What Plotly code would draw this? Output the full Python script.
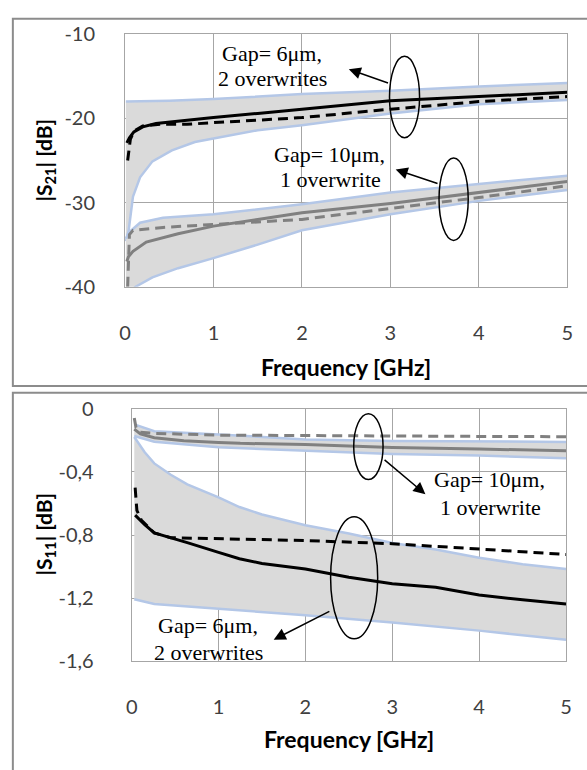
import plotly.graph_objects as go

W, H = 587, 770

# ---------------- Top chart |S21| ----------------
t6_up_x = [0.01, 0.5, 1.0, 2.0, 3.0, 4.0, 5.0]
t6_up_y = [-18.0, -17.9, -17.7, -17.1, -16.7, -16.2, -15.8]
t6_lo_x = [0.01, 0.04, 0.09, 0.17, 0.31, 0.53, 0.79, 1.0, 1.5, 2.0, 3.0, 4.0, 5.0]
t6_lo_y = [-34.6, -33.4, -29.3, -27.0, -25.1, -23.8, -22.8, -22.4, -21.4, -20.8, -19.4, -18.3, -17.8]
t6_sol_x = [0.02, 0.05, 0.1, 0.2, 0.35, 0.6, 1.0, 1.5, 2.0, 3.0, 4.0, 5.0]
t6_sol_y = [-22.9, -22.3, -21.6, -21.0, -20.6, -20.3, -19.9, -19.4, -18.9, -17.9, -17.4, -16.9]
t6_dash_x = [0.03, 0.04, 0.06, 0.1, 0.2, 0.4, 0.7, 1.0, 1.5, 2.0, 3.0, 4.0, 5.0]
t6_dash_y = [-25.0, -24.0, -22.5, -21.5, -20.9, -20.7, -20.7, -20.5, -20.2, -19.9, -18.9, -18.0, -17.4]

t10_up_x = [0.01, 0.04, 0.17, 0.43, 1.0, 2.0, 3.0, 4.0, 5.0]
t10_up_y = [-34.3, -33.6, -32.4, -31.8, -31.4, -30.2, -28.8, -27.8, -26.8]
t10_lo_x = [0.01, 0.12, 0.31, 0.6, 1.0, 1.5, 2.0, 3.0, 4.0, 5.0]
t10_lo_y = [-41.0, -40.0, -38.9, -37.8, -36.6, -35.0, -33.3, -31.4, -29.8, -28.5]
t10_sol_x = [0.02, 0.04, 0.09, 0.24, 0.6, 1.0, 1.5, 2.0, 3.0, 4.0, 5.0]
t10_sol_y = [-37.0, -36.4, -35.8, -34.7, -33.7, -32.8, -32.0, -31.2, -30.1, -28.8, -27.5]
t10_dash_x = [0.03, 0.04, 0.05, 0.09, 0.43, 1.0, 1.5, 2.0, 3.0, 4.0, 5.0]
t10_dash_y = [-40.0, -37.0, -33.8, -33.3, -32.95, -32.6, -32.3, -32.0, -30.7, -29.4, -28.0]

# ---------------- Bottom chart |S11| ----------------
b10_up_x = [0.03, 0.26, 1.0, 2.0, 3.0, 4.0, 5.0]
b10_up_y = [-0.10, -0.143, -0.164, -0.195, -0.205, -0.208, -0.211]
b10_lo_x = [0.03, 0.26, 1.0, 2.0, 3.0, 4.0, 5.0]
b10_lo_y = [-0.174, -0.21, -0.245, -0.267, -0.287, -0.297, -0.314]
b10_sol_x = [0.03, 0.1, 0.26, 0.6, 1.0, 1.25, 2.0, 3.0, 4.0, 5.0]
b10_sol_y = [-0.13, -0.16, -0.184, -0.204, -0.214, -0.22, -0.228, -0.246, -0.256, -0.267]
b10_dash_x = [0.03, 0.05, 0.1, 0.26, 1.0, 2.0, 3.0, 4.0, 5.0]
b10_dash_y = [-0.06, -0.12, -0.15, -0.157, -0.168, -0.172, -0.174, -0.176, -0.178]

b6_up_x = [0.03, 0.15, 0.26, 0.45, 0.64, 1.0, 1.24, 1.5, 2.0, 2.5, 3.0, 3.5, 4.0, 4.5, 5.0]
b6_up_y = [-0.18, -0.276, -0.347, -0.419, -0.48, -0.562, -0.623, -0.67, -0.738, -0.79, -0.851, -0.892, -0.944, -0.985, -1.015]
b6_lo_x = [0.03, 0.26, 1.0, 1.24, 2.0, 3.0, 4.0, 5.0]
b6_lo_y = [-1.206, -1.236, -1.267, -1.277, -1.307, -1.354, -1.405, -1.463]
b6_sol_x = [0.04, 0.15, 0.26, 0.45, 0.64, 1.0, 1.24, 1.5, 2.0, 2.5, 3.0, 3.5, 4.0, 4.5, 5.0]
b6_sol_y = [-0.674, -0.735, -0.787, -0.817, -0.848, -0.91, -0.95, -0.98, -1.015, -1.067, -1.108, -1.13, -1.179, -1.21, -1.237]
b6_dash_x = [0.04, 0.06, 0.11, 0.26, 0.45, 1.0, 2.0, 3.0, 4.0, 5.0]
b6_dash_y = [-0.50, -0.644, -0.705, -0.787, -0.817, -0.824, -0.835, -0.855, -0.888, -0.923]

x_ticks = [0, 1, 2, 3, 4, 5]
top_y_ticks = [-40, -30, -20, -10]
top_y_labels = ["-40", "-30", "-20", "-10"]
bot_y_ticks = [-1.6, -1.2, -0.8, -0.4, 0]
bot_y_labels = ["-1,6", "-1,2", "-0,8", "-0,4", "0"]

BLUE = "#b4c7e7"
FILL = "#dadada"
GRAY = "#808080"
BLACK = "#000000"
DASH = "10px,6px"

fig = go.Figure()


def band(xu, yu, xl, yl, xa, ya):
    fig.add_trace(go.Scatter(x=xu, y=yu, mode="lines", line=dict(color=BLUE, width=2.5),
                             xaxis=xa, yaxis=ya, showlegend=False, hoverinfo="skip"))
    fig.add_trace(go.Scatter(x=xl, y=yl, mode="lines", line=dict(color=BLUE, width=2.5),
                             fill="tonexty", fillcolor=FILL,
                             xaxis=xa, yaxis=ya, showlegend=False, hoverinfo="skip"))


def line(x, y, color, dash, xa, ya):
    fig.add_trace(go.Scatter(x=x, y=y, mode="lines",
                             line=dict(color=color, width=3, dash=dash),
                             xaxis=xa, yaxis=ya, showlegend=False))


band(t6_up_x, t6_up_y, t6_lo_x, t6_lo_y, "x", "y")
band(t10_up_x, t10_up_y, t10_lo_x, t10_lo_y, "x", "y")
line(t10_sol_x, t10_sol_y, GRAY, "solid", "x", "y")
line(t10_dash_x, t10_dash_y, GRAY, DASH, "x", "y")
line(t6_sol_x, t6_sol_y, BLACK, "solid", "x", "y")
line(t6_dash_x, t6_dash_y, BLACK, DASH, "x", "y")

band(b10_up_x, b10_up_y, b10_lo_x, b10_lo_y, "x2", "y2")
band(b6_up_x, b6_up_y, b6_lo_x, b6_lo_y, "x2", "y2")
line(b10_sol_x, b10_sol_y, GRAY, "solid", "x2", "y2")
line(b10_dash_x, b10_dash_y, GRAY, DASH, "x2", "y2")
line(b6_sol_x, b6_sol_y, BLACK, "solid", "x2", "y2")
line(b6_dash_x, b6_dash_y, BLACK, DASH, "x2", "y2")


def px(x):
    return x / W


def py(y):
    return 1 - y / H


TICKFONT = dict(family="Lato, Calibri, sans-serif", size=20, color="#404040")
GRID = "#a6a6a6"
common_x = dict(range=[0, 5], tickvals=x_ticks, showgrid=True, gridcolor=GRID, gridwidth=1,
                zeroline=False, showline=True, mirror=True, linecolor=GRID, linewidth=1,
                ticks="", tickfont=TICKFONT, ticklabelstandoff=28, fixedrange=True)
common_y = dict(showgrid=True, gridcolor=GRID, gridwidth=1, zeroline=False, showline=True,
                mirror=True, linecolor=GRID, linewidth=1, ticks="", tickfont=TICKFONT,
                fixedrange=True)

fig.update_layout(
    width=W, height=H, margin=dict(l=0, r=0, t=0, b=0),
    paper_bgcolor="white", plot_bgcolor="white",
    xaxis=dict(domain=[px(121.5), px(573)], anchor="y", **common_x),
    yaxis=dict(domain=[py(282.5), py(22)], anchor="x", range=[-40, -10], tickvals=top_y_ticks,
               ticktext=top_y_labels, ticklabelstandoff=25, **common_y),
    xaxis2=dict(domain=[px(128.3), px(571.7)], anchor="y2", **common_x),
    yaxis2=dict(domain=[py(669.3), py(408.3)], anchor="x2", range=[-1.6, 0], tickvals=bot_y_ticks,
                ticktext=bot_y_labels, ticklabelstandoff=33, **common_y),
)

shapes = []
# panel frames
shapes.append(dict(type="rect", xref="paper", yref="paper", x0=px(7), x1=px(600), y0=py(385), y1=py(6),
                   line=dict(color="#8c8c8c", width=2), layer="below"))
shapes.append(dict(type="rect", xref="paper", yref="paper", x0=px(7), x1=px(600), y0=py(785), y1=py(392),
                   line=dict(color="#8c8c8c", width=2), layer="below"))
# ellipses
ell = dict(type="circle", line=dict(color=BLACK, width=1.5))
shapes.append(dict(ell, xref="x", yref="y", x0=2.99, x1=3.33, y0=-22.3, y1=-12.6))
shapes.append(dict(ell, xref="x", yref="y", x0=3.55, x1=3.88, y0=-34.5, y1=-24.7))
shapes.append(dict(ell, xref="x2", yref="y2", x0=2.556, x1=2.894, y0=-0.449, y1=-0.032))
shapes.append(dict(ell, xref="x2", yref="y2", x0=2.29, x1=2.832, y0=-1.457, y1=-0.685))
fig.update_layout(shapes=shapes)

ann = []
arrow = dict(text="", showarrow=True, arrowhead=2, arrowsize=1.6, arrowwidth=1.5, arrowcolor=BLACK)
ann.append(dict(arrow, x=2.53, y=-14.14, ax=2.99, ay=-15.86, xref="x", yref="y", axref="x", ayref="y"))
ann.append(dict(arrow, x=3.06, y=-26.06, ax=3.55, ay=-27.8, xref="x", yref="y", axref="x", ayref="y"))
ann.append(dict(arrow, x=3.382, y=-0.542, ax=2.894, ay=-0.317, xref="x2", yref="y2", axref="x2", ayref="y2"))
ann.append(dict(arrow, x=1.635, y=-1.462, ax=2.293, ay=-1.278, xref="x2", yref="y2", axref="x2", ayref="y2"))

SERIF = dict(family="Liberation Serif, Times New Roman, serif", size=22, color=BLACK)


def txt(s, x, y, font=SERIF, angle=0):
    ann.append(dict(text=s, x=px(x), y=py(y), xref="paper", yref="paper", showarrow=False,
                    font=font, xanchor="center", yanchor="middle", textangle=angle))


txt("Gap= 6μm,", 272, 42)
txt("2 overwrites", 272, 68)
txt("Gap= 10μm,", 330, 146)
txt("1 overwrite", 331, 172)
txt("Gap= 10μm,", 494, 482)
txt("1 overwrite", 495, 510)
txt("Gap= 6μm,", 206, 632)
txt("2 overwrites", 207, 660)

TITLE = dict(family="Lato, Calibri, sans-serif", size=23, color=BLACK)
txt("<b>Frequency [GHz]</b>", 347, 365, TITLE)
txt("<b>Frequency [GHz]</b>", 350, 749, TITLE)
YT = dict(family="Lato, Calibri, sans-serif", size=21, color=BLACK)
txt("<b>|S<sub>21</sub>| [dB]</b>", 40, 152, YT, -90)
txt("<b>|S<sub>11</sub>| [dB]</b>", 40, 538, YT, -90)

fig.update_layout(annotations=ann)

fig.write_html("out.html", config={"displayModeBar": False},
               post_script="document.body.style.margin='0';document.body.style.overflow='hidden';")
